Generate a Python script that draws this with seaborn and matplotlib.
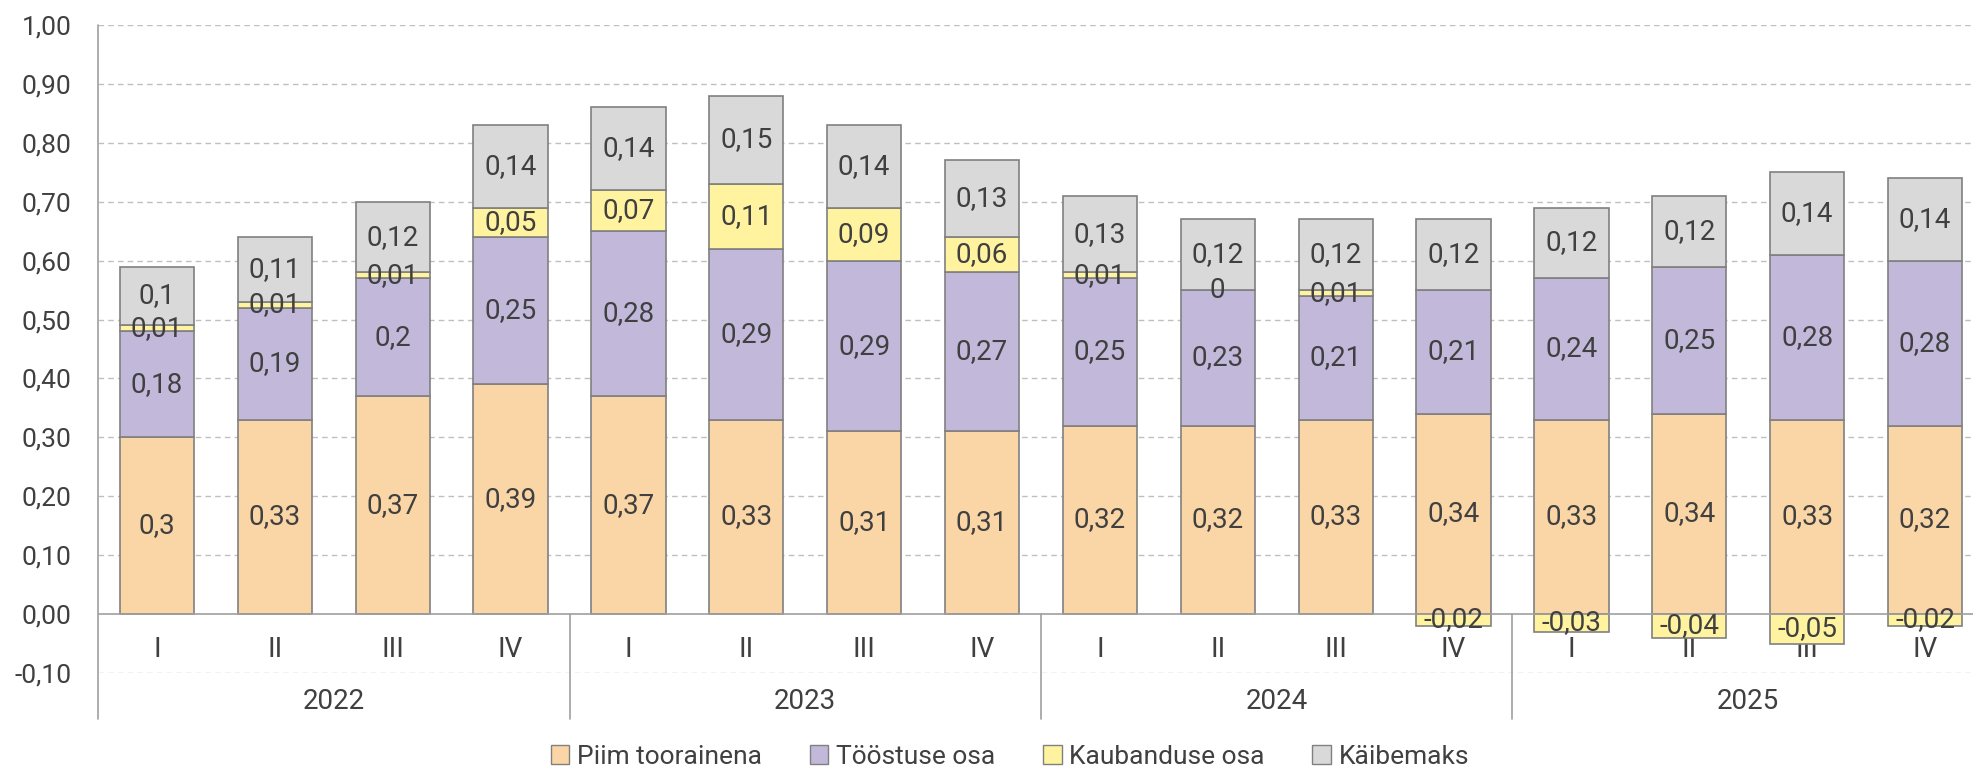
import pandas as pd
import seaborn as sns
import matplotlib.pyplot as plt
from matplotlib.patches import Patch
from matplotlib.ticker import FuncFormatter

# --- DATA ---
years = ["2022", "2023", "2024", "2025"]
quarters = ["I", "II", "III", "IV"]
piim = [0.3, 0.33, 0.37, 0.39, 0.37, 0.33, 0.31, 0.31, 0.32, 0.32, 0.33, 0.34, 0.33, 0.34, 0.33, 0.32]
toostus = [0.18, 0.19, 0.2, 0.25, 0.28, 0.29, 0.29, 0.27, 0.25, 0.23, 0.21, 0.21, 0.24, 0.25, 0.28, 0.28]
kaubandus = [0.01, 0.01, 0.01, 0.05, 0.07, 0.11, 0.09, 0.06, 0.01, 0, 0.01, -0.02, -0.03, -0.04, -0.05, -0.02]
kaibemaks = [0.1, 0.11, 0.12, 0.14, 0.14, 0.15, 0.14, 0.13, 0.13, 0.12, 0.12, 0.12, 0.12, 0.12, 0.14, 0.14]

series_names = ["Piim toorainena", "Tööstuse osa", "Kaubanduse osa", "Käibemaks"]
colors = ["#FAD5A5", "#C2B8DA", "#FFF3A0", "#D9D9D9"]
edge = "#808080"
text_col = "#404040"

n = len(piim)
df = pd.DataFrame({
    "pos": list(range(n)),
    "piim": piim,
    "toostus": toostus,
    "kaubandus": kaubandus,
    "kaibemaks": kaibemaks,
})
# stacking: positives on top of each other, negatives start from zero
df["b_toostus"] = df["piim"]
df["b_kaub"] = [p + t if k >= 0 else 0 for p, t, k in zip(df["piim"], df["toostus"], df["kaubandus"])]
df["b_kaib"] = df["piim"] + df["toostus"] + df["kaubandus"].clip(lower=0)

sns.set_theme(style="white")
plt.rcParams["font.family"] = ["Roboto", "DejaVu Sans"]

fig = plt.figure(figsize=(19.73, 7.66), dpi=100)
ax = fig.add_axes([98 / 1973, 1 - 673 / 766, 1886 / 1973, (673 - 25) / 766])

layers = [("piim", None), ("toostus", "b_toostus"), ("kaubandus", "b_kaub"), ("kaibemaks", "b_kaib")]
for (col, bcol), c in zip(layers, colors):
    bottom = 0 if bcol is None else df[bcol].values
    sns.barplot(data=df, x="pos", y=col, bottom=bottom, color=c, edgecolor=edge,
                linewidth=1.2, width=0.63, saturation=1, ax=ax, zorder=3)

# data labels
for (col, bcol) in layers:
    for i in range(n):
        v = df[col][i]
        b = 0 if bcol is None else df[bcol][i]
        lab = f"{v:g}".replace(".", ",")
        ax.text(i, b + v / 2, lab, ha="center", va="center", fontsize=20,
                color=text_col, zorder=5)

ax.set_xlim(-0.5, n - 0.5)
ax.set_ylim(-0.10, 1.00)
ax.set_yticks([i / 10 for i in range(-1, 11)])
ax.yaxis.set_major_formatter(FuncFormatter(lambda v, p: f"{v:.2f}".replace(".", ",")))
ax.tick_params(axis="y", length=0, pad=19, labelsize=19, labelcolor=text_col)
ax.set_xticks([])
ax.set_xlabel("")
ax.set_ylabel("")

for y in [i / 10 for i in range(-1, 11)]:
    if y != 0:
        ax.axhline(y, color="#BFBFBF", linestyle=(0, (4, 3)), linewidth=1, zorder=1)
ax.axhline(0, color="#A0A0A0", linewidth=1.2, zorder=4)

for s in ax.spines.values():
    s.set_visible(False)

# category axis: quarter labels, year labels, separators
y_low = -0.178
ax.plot([-0.5, -0.5], [y_low, 1.0], color="#A0A0A0", linewidth=1.2, clip_on=False, zorder=4)
for k in range(1, len(years)):
    x = 4 * k - 0.5
    ax.plot([x, x], [0, y_low], color="#A0A0A0", linewidth=1.2, clip_on=False, zorder=4)
for i in range(n):
    ax.text(i, -0.06, quarters[i % 4], ha="center", va="center", fontsize=20,
            color=text_col, zorder=2)
for k, yr in enumerate(years):
    ax.text(4 * k + 1.5, -0.148, yr, ha="center", va="center", fontsize=20,
            color=text_col, clip_on=False)

handles = [Patch(facecolor=c, edgecolor=edge, label=l) for c, l in zip(colors, series_names)]
fig.legend(handles=handles, loc="center", bbox_to_anchor=(0.512, 0.012), ncol=4,
           frameon=False, fontsize=19, handlelength=0.7, handleheight=0.7,
           handletextpad=0.3, columnspacing=1.8, labelcolor=text_col,
           borderpad=0, borderaxespad=0)

fig.savefig("out.png", dpi=100)
